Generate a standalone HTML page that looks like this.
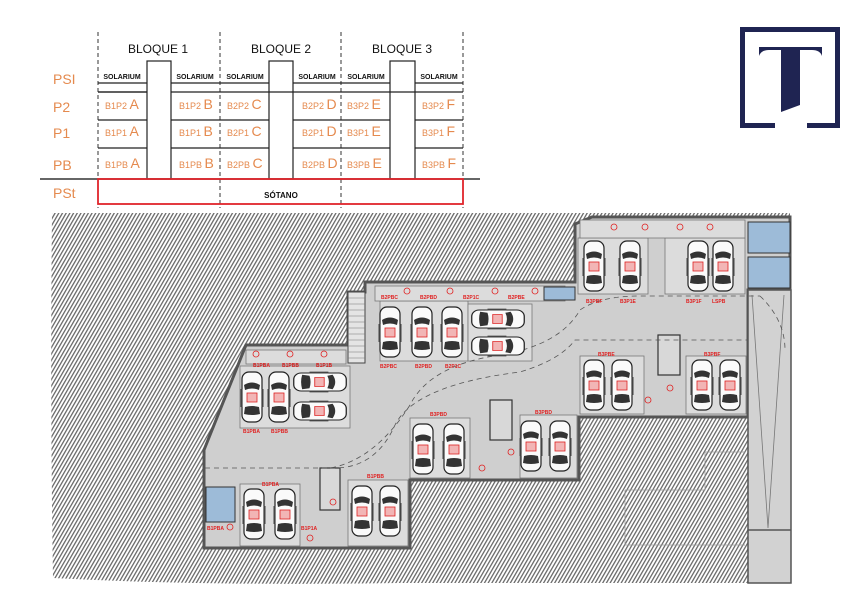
<!DOCTYPE html>
<html><head><meta charset="utf-8"><style>
html,body{margin:0;padding:0;background:#fff;}
svg{display:block;}
</style></head><body>
<svg width="867" height="611" viewBox="0 0 867 611" xmlns="http://www.w3.org/2000/svg" font-family="'Liberation Sans', sans-serif">
<defs>
<pattern id="h" width="3.2" height="3.2" patternUnits="userSpaceOnUse" patternTransform="rotate(30)">
<rect width="3.2" height="3.2" fill="#fff"/>
<rect width="1.3" height="3.2" fill="#6a6a6a"/>
</pattern>
<g id="car">
<rect x="-10" y="-25" width="20" height="50" rx="7" fill="#fafafa" stroke="#222" stroke-width="1.2"/>
<path d="M-8 -12 Q0 -17 8 -12 L7 -7 Q0 -10 -7 -7 Z" fill="#333"/>
<path d="M-7 10 Q0 8 7 10 L8 17 Q0 19 -8 17 Z" fill="#333"/>
<rect x="-11.5" y="-8" width="2" height="18" fill="#444"/>
<rect x="9.5" y="-8" width="2" height="18" fill="#444"/>
<rect x="-5" y="-4" width="10" height="9" fill="#f2b5b5" stroke="#d22" stroke-width="0.8"/>
</g>
</defs>

<!-- TABLE -->
<g stroke="#333" stroke-width="1" stroke-dasharray="4,3">
<line x1="98" y1="32" x2="98" y2="208"/><line x1="220" y1="32" x2="220" y2="208"/>
<line x1="341" y1="32" x2="341" y2="208"/><line x1="463" y1="32" x2="463" y2="208"/>
</g>
<g fill="none" stroke="#222" stroke-width="1.2">
<rect x="147" y="61" width="24" height="118"/><rect x="269" y="61" width="24" height="118"/><rect x="390" y="61" width="25" height="118"/>
<path d="M98 83H147M171 83H220M220 83H269M293 83H341M341 83H390M415 83H463"/>
<path d="M98 92H147M171 92H463M98 120H147M171 120H269M293 120H390M415 120H463M98 148H147M171 148H269M293 148H390M415 148H463"/>
<path d="M98 92H147M269 92H269"/>
</g>
<line x1="40" y1="179" x2="480" y2="179" stroke="#333" stroke-width="1.5"/>
<rect x="98" y="179" width="365" height="25" fill="none" stroke="#e0252b" stroke-width="1.8"/>
<g font-size="12" fill="#111" text-anchor="middle">
<text x="158" y="53">BLOQUE 1</text><text x="281" y="53">BLOQUE 2</text><text x="402" y="53">BLOQUE 3</text>
</g>
<g font-size="7" font-weight="bold" fill="#111" text-anchor="middle">
<text x="122" y="79">SOLARIUM</text><text x="195" y="79">SOLARIUM</text><text x="245" y="79">SOLARIUM</text>
<text x="317" y="79">SOLARIUM</text><text x="366" y="79">SOLARIUM</text><text x="439" y="79">SOLARIUM</text>
<text x="281" y="198" font-size="8">SÓTANO</text>
</g>
<g font-size="14" fill="#e58a4e">
<text x="53" y="84">PSI</text><text x="53" y="112">P2</text><text x="53" y="138">P1</text><text x="53" y="170">PB</text><text x="53" y="198">PSt</text>
</g>
<g fill="#e58a4e" font-size="9">
<text x="105" y="109">B1P2 <tspan font-size="14">A</tspan></text><text x="179" y="109">B1P2 <tspan font-size="14">B</tspan></text>
<text x="227" y="109">B2P2 <tspan font-size="14">C</tspan></text><text x="302" y="109">B2P2 <tspan font-size="14">D</tspan></text>
<text x="347" y="109">B3P2 <tspan font-size="14">E</tspan></text><text x="422" y="109">B3P2 <tspan font-size="14">F</tspan></text>
<text x="105" y="136">B1P1 <tspan font-size="14">A</tspan></text><text x="179" y="136">B1P1 <tspan font-size="14">B</tspan></text>
<text x="227" y="136">B2P1 <tspan font-size="14">C</tspan></text><text x="302" y="136">B2P1 <tspan font-size="14">D</tspan></text>
<text x="347" y="136">B3P1 <tspan font-size="14">E</tspan></text><text x="422" y="136">B3P1 <tspan font-size="14">F</tspan></text>
<text x="105" y="168">B1PB <tspan font-size="14">A</tspan></text><text x="179" y="168">B1PB <tspan font-size="14">B</tspan></text>
<text x="227" y="168">B2PB <tspan font-size="14">C</tspan></text><text x="302" y="168">B2PB <tspan font-size="14">D</tspan></text>
<text x="347" y="168">B3PB <tspan font-size="14">E</tspan></text><text x="422" y="168">B3PB <tspan font-size="14">F</tspan></text>
</g>

<!-- LOGO -->
<g fill="#1f2452">
<path d="M740 27H840V128H807V123H835V32H745V123H775V128H740Z"/>
<path d="M759 47H822V56Q820 50 812 50H800V105L781 112V50H769Q761 50 759 56Z"/>
</g>

<!-- PLAN: hatch -->
<path d="M52 213H790V290H748V583H400Q200 586 53 578Q50 400 52 213Z" fill="url(#h)"/>
<!-- floor -->
<path d="M575 224L592 217H790V290H748V417H579V480H410V548H204V450L246 345H348V292H365V282H575Z" fill="#cfcfcf" stroke="#555" stroke-width="3"/>
<rect x="748" y="290" width="43" height="293" fill="#d2d2d2" stroke="#555" stroke-width="1.5"/>
<line x1="748" y1="530" x2="791" y2="530" stroke="#555" stroke-width="1.5"/>
<path d="M752 295L768 528L784 295" fill="none" stroke="#777" stroke-width="0.8"/>
<g fill="none" stroke="#999" stroke-width="0.8">
<path d="M625 490V545H745M625 490H705V452H745"/>
</g>
<!-- parking bays -->
<g fill="#dcdcdc" stroke="#777" stroke-width="0.8">
<rect x="578" y="238" width="70" height="56"/><rect x="665" y="238" width="80" height="56"/>
<rect x="380" y="301" width="88" height="60"/><rect x="468" y="304" width="64" height="57"/>
<rect x="240" y="366" width="110" height="62"/>
<rect x="580" y="356" width="64" height="58"/><rect x="686" y="356" width="60" height="58"/>
<rect x="410" y="418" width="60" height="60"/><rect x="520" y="415" width="57" height="63"/>
<rect x="240" y="484" width="60" height="62"/><rect x="348" y="480" width="60" height="66"/>
<rect x="375" y="286" width="190" height="15"/><rect x="580" y="220" width="165" height="18"/>
<rect x="246" y="350" width="100" height="14"/>
</g>
<!-- stairs -->
<rect x="348" y="292" width="17" height="71" fill="#e4e4e4" stroke="#444"/>
<g stroke="#777" stroke-width="0.6"><path d="M348 298H365M348 304H365M348 310H365M348 316H365M348 322H365M348 328H365M348 334H365M348 340H365M348 346H365M348 352H365M348 358H365"/></g>
<!-- cores -->
<g fill="#d8d8d8" stroke="#333" stroke-width="1.2">
<rect x="658" y="335" width="22" height="40"/><rect x="490" y="400" width="22" height="40"/><rect x="320" y="468" width="20" height="42"/>
</g>
<!-- blue rooms -->
<g fill="#9dbbd8" stroke="#333" stroke-width="1">
<rect x="748" y="222" width="42" height="31"/><rect x="748" y="257" width="42" height="31"/>
<rect x="544" y="287" width="31" height="13"/><rect x="206" y="487" width="29" height="35"/>
</g>
<!-- dashed path -->
<path d="M205 468H330Q375 460 410 405Q430 365 500 355Q560 345 580 310Q600 296 640 296H760" fill="none" stroke="#555" stroke-width="0.8" stroke-dasharray="5,4"/>
<path d="M330 468Q375 470 395 425Q415 385 520 372Q560 360 575 340H748" fill="none" stroke="#555" stroke-width="0.8" stroke-dasharray="5,4"/>
<path d="M760 296Q785 320 785 350" fill="none" stroke="#555" stroke-width="0.8" stroke-dasharray="5,4"/>
<!-- cars vertical -->
<use href="#car" transform="translate(594,266)"/><use href="#car" transform="translate(630,266)"/>
<use href="#car" transform="translate(698,266)"/><use href="#car" transform="translate(723,266)"/>
<use href="#car" transform="translate(390,332)"/><use href="#car" transform="translate(422,332)"/><use href="#car" transform="translate(452,332)"/>
<use href="#car" transform="translate(252,397)"/><use href="#car" transform="translate(279,397)"/>
<use href="#car" transform="translate(594,385)"/><use href="#car" transform="translate(622,385)"/>
<use href="#car" transform="translate(702,385)"/><use href="#car" transform="translate(730,385)"/>
<use href="#car" transform="translate(423,449)"/><use href="#car" transform="translate(454,449)"/>
<use href="#car" transform="translate(531,446)"/><use href="#car" transform="translate(560,446)"/>
<use href="#car" transform="translate(254,514)"/><use href="#car" transform="translate(285,514)"/>
<use href="#car" transform="translate(362,511)"/><use href="#car" transform="translate(390,511)"/>
<!-- cars horizontal -->
<use href="#car" transform="translate(498,319) rotate(90) scale(0.9,1.05)"/>
<use href="#car" transform="translate(498,346) rotate(90) scale(0.9,1.05)"/>
<use href="#car" transform="translate(320,382) rotate(90) scale(0.9,1.05)"/>
<use href="#car" transform="translate(320,411) rotate(90) scale(0.9,1.05)"/>
<!-- storage labels -->
<g fill="#e02020" font-size="5" font-weight="bold">
<text x="381" y="299">B2PBC</text><text x="420" y="299">B2PBD</text><text x="463" y="299">B2P1C</text><text x="508" y="299">B2PBE</text>
<text x="586" y="303">B3PBF</text><text x="620" y="303">B3P1E</text><text x="686" y="303">B3P1F</text><text x="712" y="303">LSPB</text>
<text x="253" y="367">B1PBA</text><text x="282" y="367">B1PBB</text><text x="316" y="367">B1P1B</text>
<text x="380" y="368">B2PBC</text><text x="415" y="368">B2PBD</text><text x="445" y="368">B2P1C</text>
<text x="243" y="433">B1PBA</text><text x="271" y="433">B1PBB</text>
<text x="598" y="356">B3PBE</text><text x="704" y="356">B3PBF</text>
<text x="430" y="416">B3PBD</text><text x="535" y="414">B3PBD</text>
<text x="262" y="486">B1PBA</text><text x="367" y="478">B1PBB</text>
<text x="207" y="530">B1PBA</text><text x="301" y="530">B1P1A</text>
</g>
<g fill="none" stroke="#e02020" stroke-width="0.8">
<circle cx="407" cy="291" r="3"/><circle cx="450" cy="291" r="3"/><circle cx="495" cy="291" r="3"/><circle cx="535" cy="291" r="3"/>
<circle cx="614" cy="227" r="3"/><circle cx="645" cy="227" r="3"/><circle cx="680" cy="227" r="3"/><circle cx="710" cy="227" r="3"/>
<circle cx="256" cy="354" r="3"/><circle cx="290" cy="354" r="3"/><circle cx="324" cy="354" r="3"/>
<circle cx="670" cy="388" r="3"/><circle cx="648" cy="400" r="3"/><circle cx="482" cy="468" r="3"/><circle cx="511" cy="452" r="3"/>
<circle cx="230" cy="527" r="3"/><circle cx="310" cy="538" r="3"/><circle cx="333" cy="502" r="3"/>
</g>
</svg>
</body></html>
